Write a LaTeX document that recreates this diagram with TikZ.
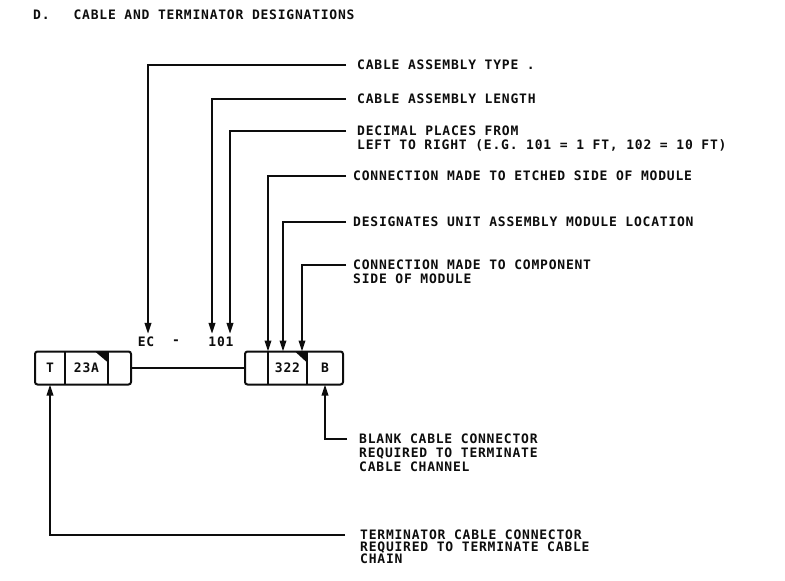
\documentclass[tikz,border=0pt]{standalone}
\usepackage{fontspec}
\usetikzlibrary{arrows.meta,positioning}
\newfontfamily\lblfont{DejaVu Sans Mono}[LetterSpace=6]
\definecolor{InkClr}{rgb}{0.05,0.05,0.05}

\begin{document}
\begin{tikzpicture}[x=1pt,y=-1pt,
  lead/.style={line width=2pt,color=InkClr},
  tip/.style={-{Triangle[length=11pt,width=6.5pt]}},
  cell/.style={minimum height=33pt,inner sep=0pt,outer sep=0pt,font=\lblfont\bfseries\fontsize{13}{14}\selectfont,text=InkClr},
  frame/.style={line width=2pt,color=InkClr,rounded corners=2.5pt},
  note/.style={anchor=north west,align=left,inner sep=0pt,font=\lblfont\bfseries\fontsize{13}{14}\selectfont,text=InkClr},
  desig/.style={inner sep=3pt,font=\lblfont\bfseries\fontsize{13}{14}\selectfont,text=InkClr}]
\useasboundingbox (0,0) rectangle (785,581);

\node[note,anchor=base west] (ttl) at (33,19) {D.\hspace{24pt}CABLE AND TERMINATOR DESIGNATIONS};

\node[cell,minimum width=30pt] (cT) at (50,368) {T};
\node[cell,minimum width=43pt,right=0pt of cT] (c23) {23A};
\node[cell,minimum width=23pt,right=0pt of c23] (cL) {};

\node[cell,minimum width=23pt] (cR) at (256.5,368) {};
\node[cell,minimum width=39pt,right=0pt of cR] (c322) {322};
\node[cell,minimum width=36pt,right=0pt of c322] (cB) {B};

\draw[frame] (cT.north west) rectangle (cL.south east);
\draw[lead] (cT.north east) -- (cT.south east);
\draw[lead] (c23.north east) -- (c23.south east);
\fill[InkClr] (c23.north east) -- ++(-13pt,0) -- ++(13pt,-11pt) -- cycle;

\draw[frame] (cR.north west) rectangle (cB.south east);
\draw[lead] (cR.north east) -- (cR.south east);
\draw[lead] (c322.north east) -- (c322.south east);
\fill[InkClr] (c322.north east) -- ++(-12pt,0) -- ++(12pt,-11pt) -- cycle;

\draw[lead] (cL.east) -- (cR.west);

\node[desig] (lEC) at (146,342) {EC};
\node[desig] (lDash) at (176,342) {-};
\node[desig] (l101) at (221,342) {101};

\node[note] (nType) at (357,60) {CABLE ASSEMBLY TYPE .};
\node[note] (nLength) at (357,94) {CABLE ASSEMBLY LENGTH};
\node[note] (nDecimal) at (357,126) {DECIMAL PLACES FROM\\LEFT TO RIGHT (E.G. 101 = 1 FT, 102 = 10 FT)};
\node[note] (nEtched) at (353,171) {CONNECTION MADE TO ETCHED SIDE OF MODULE};
\node[note] (nUnit) at (353,217) {DESIGNATES UNIT ASSEMBLY MODULE LOCATION};
\node[note] (nComp) at (353,260) {CONNECTION MADE TO COMPONENT\\SIDE OF MODULE};
\node[note] (nBlank) at (359,434) {BLANK CABLE CONNECTOR\\REQUIRED TO TERMINATE\\CABLE CHANNEL};
\node[note,font=\lblfont\bfseries\fontsize{13}{12}\selectfont] (nTerm) at (360,530) {TERMINATOR CABLE CONNECTOR\\REQUIRED TO TERMINATE CABLE\\CHAIN};

\draw[lead,tip] ([xshift=-11pt,yshift=-5pt]nType.north west) -| ([xshift=2pt]lEC.north);
\draw[lead,tip] ([xshift=-11pt,yshift=-5pt]nLength.north west) -| ([xshift=-9pt]l101.north);
\draw[lead,tip] ([xshift=-11pt,yshift=-5pt]nDecimal.north west) -| ([xshift=9pt]l101.north);
\draw[lead,tip] ([xshift=-7pt,yshift=-5pt]nEtched.north west) -| (c322.north west);
\draw[lead,tip] ([xshift=-7pt,yshift=-5pt]nUnit.north west) -| ([xshift=-4.5pt]c322.north);
\draw[lead,tip] ([xshift=-7pt,yshift=-5pt]nComp.north west) -| ([xshift=-5pt]c322.north east);
\draw[lead,tip] ([xshift=-12pt,yshift=-5pt]nBlank.north west) -| (cB.south);
\draw[lead,tip] ([xshift=-15pt,yshift=-5pt]nTerm.north west) -| (cT.south);

\end{tikzpicture}
\end{document}
